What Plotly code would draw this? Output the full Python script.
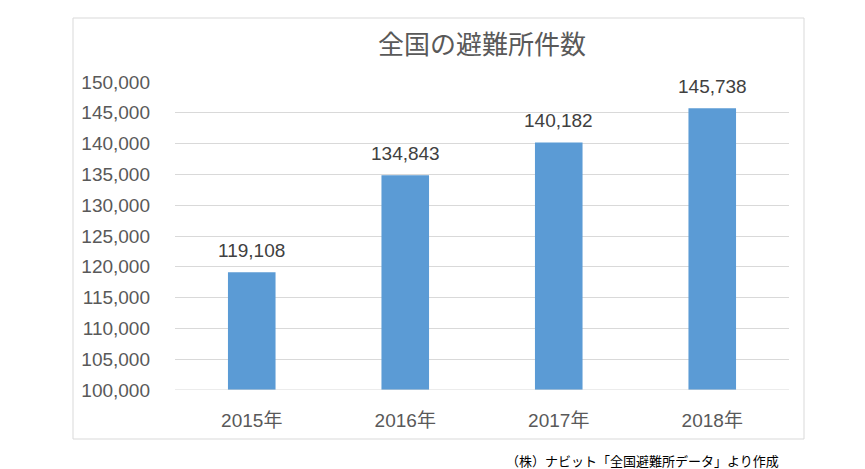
import plotly.graph_objects as go

years = ['2015年', '2016年', '2017年', '2018年']
counts = [119108, 134843, 140182, 145738]
y_ticks = list(range(100000, 150001, 5000))

FONT = 'Noto Sans CJK JP, Liberation Sans, sans-serif'
NUM_FONT = 'Liberation Sans, Noto Sans CJK JP, sans-serif'

# page has an 8px body margin, so the figure is sized/offset for that
W, H = 857, 461
L, T, R, B = 167, 74, 76, 79
pw, ph = W - L - R, H - T - B

fig = go.Figure()
fig.add_trace(go.Bar(
  x=years, y=counts,
  marker=dict(color='#5B9BD5', line=dict(width=0)),
  hoverinfo='x+y',
))

# value labels above bars
for yr, v in zip(years, counts):
  fig.add_annotation(x=yr, y=v, text=f'{v:,}', showarrow=False,
                     xanchor='center', yanchor='bottom', yshift=9,
                     font=dict(family=NUM_FONT, size=19, color='#404040'))

fig.update_layout(
  width=W, height=H,
  margin=dict(l=L, r=R, t=T, b=B),
  paper_bgcolor='white', plot_bgcolor='white',
  bargap=0.69,
  showlegend=False,
  title=dict(text='全国の避難所件数', x=0.5, xref='paper', xanchor='center',
             y=1 - 37 / H, yref='container', yanchor='middle',
             font=dict(family=FONT, size=26, color='#595959')),
  xaxis=dict(showgrid=False, showline=False, ticks='', ticklabelstandoff=17,
             tickfont=dict(family=NUM_FONT, size=19, color='#595959')),
  yaxis=dict(range=[100000, 150000], tickvals=y_ticks,
             ticktext=[f'{v:,}' for v in y_ticks],
             showgrid=True, gridcolor='#D9D9D9', gridwidth=1,
             zeroline=False, showline=False, ticks='', ticklabelstandoff=24,
             tickfont=dict(family=NUM_FONT, size=19, color='#595959')),
  shapes=[dict(type='rect', xref='paper', yref='paper',
               x0=(65 - L) / pw, x1=(796 - L) / pw,
               y0=(H - B - 431) / ph, y1=(H - B - 10) / ph,
               line=dict(color='#D9D9D9', width=1), fillcolor='rgba(0,0,0,0)',
               layer='below')],
)

fig.add_annotation(text='（株）ナビット「全国避難所データ」より作成',
                   xref='paper', yref='paper', x=(634 - L) / pw, y=(H - B - 452) / ph,
                   xanchor='center', yanchor='middle', showarrow=False,
                   font=dict(family=FONT, size=13, color='#000000'))

# bottom gridline at 100,000 like Excel's axis line
fig.add_hline(y=100000, line=dict(color='#D9D9D9', width=1))

fig.write_html('out.html')
